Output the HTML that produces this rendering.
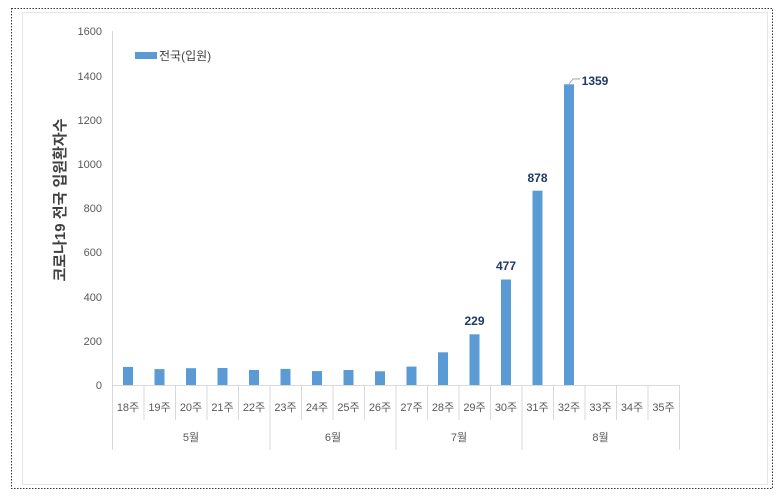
<!DOCTYPE html>
<html><head><meta charset="utf-8"><style>
html,body{margin:0;padding:0;background:#fff;}
svg{display:block;}
text{font-family:"Liberation Sans","Noto Sans CJK KR",sans-serif;}
</style></head><body>
<svg width="780" height="496" viewBox="0 0 780 496" xmlns="http://www.w3.org/2000/svg">
<rect x="11.5" y="8.5" width="761" height="480" fill="none" stroke="#333" stroke-width="1" stroke-dasharray="1.5,1.5"/>
<rect x="22.5" y="12.5" width="745" height="472" fill="none" stroke="#e6e6e6" stroke-width="1"/>
<line x1="112.5" y1="31" x2="112.5" y2="385" stroke="#d9d9d9"/>
<line x1="112" y1="385.5" x2="680" y2="385.5" stroke="#d9d9d9"/>
<g font-size="11" fill="#595959" text-anchor="end">
<text x="102" y="389">0</text><text x="102" y="345">200</text><text x="102" y="301">400</text><text x="102" y="256">600</text><text x="102" y="212">800</text><text x="102" y="168">1000</text><text x="102" y="124">1200</text><text x="102" y="80">1400</text><text x="102" y="35">1600</text>
</g>
<text transform="translate(65,200) rotate(-90)" font-size="15" font-weight="bold" fill="#404040" text-anchor="middle">코로나19 전국 입원환자수</text>
<rect x="135" y="52" width="22" height="7" fill="#5b9bd5"/>
<text x="159" y="60" font-size="12" fill="#404040">전국(입원)</text>
<g fill="#5b9bd5">
<rect x="123" y="366.9" width="10" height="18.1"/>
<rect x="154.5" y="369.1" width="10" height="15.9"/>
<rect x="186" y="368.2" width="10" height="16.8"/>
<rect x="217.5" y="368" width="10" height="17"/>
<rect x="249" y="370" width="10" height="15"/>
<rect x="280.5" y="368.9" width="10" height="16.1"/>
<rect x="312" y="371.1" width="10" height="13.9"/>
<rect x="343.5" y="370" width="10" height="15"/>
<rect x="375" y="371.3" width="10" height="13.7"/>
<rect x="406.5" y="366.6" width="10" height="18.4"/>
<rect x="438" y="352.3" width="10" height="32.7"/>
<rect x="469.5" y="334.3" width="10" height="50.7"/>
<rect x="501" y="279.5" width="10" height="105.5"/>
<rect x="532.5" y="190.7" width="10" height="194.3"/>
<rect x="564" y="84.3" width="10" height="300.7"/>
</g>
<g font-size="12" font-weight="bold" fill="#1f3864" text-anchor="middle">
<text x="474.5" y="325">229</text>
<text x="506" y="270">477</text>
<text x="537.5" y="182">878</text>
<text x="595" y="85">1359</text>
</g>
<polyline points="569,84 573,79 580,79" fill="none" stroke="#a6a6a6" stroke-width="1"/>
<g stroke="#d9d9d9">
<line x1="112.5" y1="385" x2="112.5" y2="450"/>
<line x1="144" y1="385" x2="144" y2="420"/><line x1="175.5" y1="385" x2="175.5" y2="420"/><line x1="207" y1="385" x2="207" y2="420"/><line x1="238.5" y1="385" x2="238.5" y2="420"/>
<line x1="270" y1="385" x2="270" y2="450"/>
<line x1="301.5" y1="385" x2="301.5" y2="420"/><line x1="333" y1="385" x2="333" y2="420"/><line x1="364.5" y1="385" x2="364.5" y2="420"/>
<line x1="396" y1="385" x2="396" y2="450"/>
<line x1="427.5" y1="385" x2="427.5" y2="420"/><line x1="459" y1="385" x2="459" y2="420"/><line x1="490.5" y1="385" x2="490.5" y2="420"/>
<line x1="522" y1="385" x2="522" y2="450"/>
<line x1="553.5" y1="385" x2="553.5" y2="420"/><line x1="585" y1="385" x2="585" y2="420"/><line x1="616.5" y1="385" x2="616.5" y2="420"/><line x1="648" y1="385" x2="648" y2="420"/>
<line x1="679.5" y1="385" x2="679.5" y2="450"/>
</g>
<g font-size="11" fill="#595959" text-anchor="middle">
<text x="128" y="411">18주</text><text x="159.5" y="411">19주</text><text x="191" y="411">20주</text><text x="222.5" y="411">21주</text><text x="254" y="411">22주</text><text x="285.5" y="411">23주</text><text x="317" y="411">24주</text><text x="348.5" y="411">25주</text><text x="380" y="411">26주</text><text x="411.5" y="411">27주</text><text x="443" y="411">28주</text><text x="474.5" y="411">29주</text><text x="506" y="411">30주</text><text x="537.5" y="411">31주</text><text x="569" y="411">32주</text><text x="600.5" y="411">33주</text><text x="632" y="411">34주</text><text x="663.5" y="411">35주</text>
<text x="191" y="441">5월</text><text x="333" y="441">6월</text><text x="459" y="441">7월</text><text x="600.5" y="441">8월</text>
</g>
</svg>
</body></html>
